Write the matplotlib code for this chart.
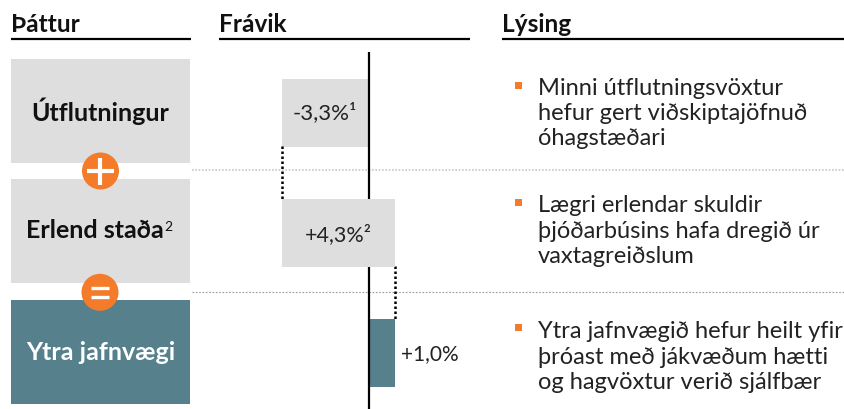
import matplotlib
matplotlib.use('Agg')  # non-interactive backend
import matplotlib.pyplot as plt
from matplotlib.patches import Circle, Rectangle

# Data
headers = ['Þáttur', 'Frávik', 'Lýsing']
factors = ['Útflutningur', 'Erlend staða', 'Ytra jafnvægi']
factor_notes = ['', '2', '']
deltas = [-3.3, 4.3, 1.0]
bar_labels = ['-3,3%¹', '+4,3%²', '+1,0%']
descriptions = [
    ['Minni útflutningsvöxtur', 'hefur gert viðskiptajöfnuð', 'óhagstæðari'],
    ['Lægri erlendar skuldir', 'þjóðarbúsins hafa dregið úr', 'vaxtagreiðslum'],
    ['Ytra jafnvægið hefur heilt yfir', 'þróast með jákvæðum hætti', 'og hagvöxtur verið sjálfbær'],
]

GREY = '#DEDEDE'
TEAL = '#55808C'
ORANGE = '#F47B2A'
TEXT = '#222222'
W, H = 845, 409

plt.rcParams['font.family'] = ['Lato', 'DejaVu Sans']

fig = plt.figure(figsize=(W / 100, H / 100), dpi=100)

# Layout axes in pixel coordinates
ax = fig.add_axes([0, 0, 1, 1])
ax.set_xlim(0, W)
ax.set_ylim(H, 0)
ax.axis('off')

# Column headers
for name, x0, x1 in zip(headers, [11, 219, 502], [191, 470, 845]):
    ax.text(x0, 25, name, fontsize=17.6, fontweight='bold', color='#111111', va='center')
    ax.plot([x0, x1], [38.5, 38.5], color='black', lw=1.6, solid_capstyle='butt')

# Row separators
ax.plot([192, W], [169.7, 169.7], color='#C8C8C8', lw=1.2, ls=(0, (1, 1)))
ax.plot([192, W], [292.4, 292.4], color='#999999', lw=0.8, ls=(0, (1.5, 1.5)))

# Factor boxes
box_tops = [59, 179, 300]
box_colors = [GREY, GREY, TEAL]
text_colors = ['#111111', '#111111', 'white']
for name, note, top, col, tcol in zip(factors, factor_notes, box_tops, box_colors, text_colors):
    ax.add_patch(Rectangle((11, top), 179, 104, fc=col, ec='none'))
    label_x = 95 if note else 100.5
    t = ax.text(label_x, top + 52, name, fontsize=18, fontweight='bold', color=tcol,
                ha='center', va='center')
    if note:
        ax.annotate(note, xy=(1, 0.42), xycoords=t, xytext=(0, 0), textcoords='offset points',
                    fontsize=10, color=tcol, ha='left', va='bottom')

# Operators
for cy, cx in zip([171, 292.3], [100.5, 100]):
    ax.add_patch(Circle((cx, cy), 18.5, fc=ORANGE, ec='none', zorder=4))
ax.plot([87, 114], [171, 171], color='white', lw=3, solid_capstyle='butt', zorder=5)
ax.plot([100.5, 100.5], [157.5, 184.5], color='white', lw=3, solid_capstyle='butt', zorder=5)
for y in [288.3, 296.7]:
    ax.plot([91, 109], [y, y], color='white', lw=2.4, solid_capstyle='butt', zorder=5)

# Description bullets and text
for lines, top, by in zip(descriptions, [113.5, 231, 357], [85, 202, 327]):
    ax.add_patch(Rectangle((515.5, by - 3.5), 7, 7, fc=ORANGE, ec='none'))
    ax.text(538, top, '\n'.join(lines), fontsize=17, color=TEXT, va='center',
            linespacing=1.25)

# Waterfall axes, scaled so one percentage point is 26.35 px
x_scale = 26.35
px_left, px_right, px_zero = 192, 480, 368.5
px_top, px_bottom = 52, 409
row_first, row_step = 112.5, 120.0
axw = fig.add_axes([px_left / W, 1 - px_bottom / H, (px_right - px_left) / W, (px_bottom - px_top) / H])
axw.patch.set_alpha(0)
axw.set_xlim((px_left - px_zero) / x_scale, (px_right - px_zero) / x_scale)
axw.set_ylim((px_bottom - row_first) / row_step, (px_top - row_first) / row_step)
axw.axis('off')

lefts = [0, deltas[0], 0]
rows = range(len(deltas))
bar_colors = [GREY, GREY, TEAL]
bar_z = [1, 3, 1]
for i in rows:
    axw.barh(i, deltas[i], left=lefts[i], height=68 / row_step, color=bar_colors[i],
             zorder=bar_z[i])

axw.axvline(0, color='black', lw=1.6, zorder=2)

# Connectors between the steps
axw.plot([deltas[0], deltas[0]], [0.283, 0.717], color='black', lw=1.8, ls=(0, (1, 1)), zorder=2)
end = deltas[0] + deltas[1]
axw.plot([end, end], [1.283, 1.717], color='black', lw=1.8, ls=(0, (1, 1)), zorder=2)

axw.text(lefts[0] + deltas[0] / 2 - 0.02, 0, bar_labels[0], fontsize=16, color=TEXT,
         ha='center', va='center', zorder=4)
axw.text(lefts[1] + deltas[1] / 2, 1.015, bar_labels[1], fontsize=15.5, color=TEXT,
         ha='center', va='center', zorder=4)
axw.text(deltas[2] + 0.25, 2.015, bar_labels[2], fontsize=15, color=TEXT,
         ha='left', va='center', zorder=4)

fig.savefig('out.png', dpi=100)
